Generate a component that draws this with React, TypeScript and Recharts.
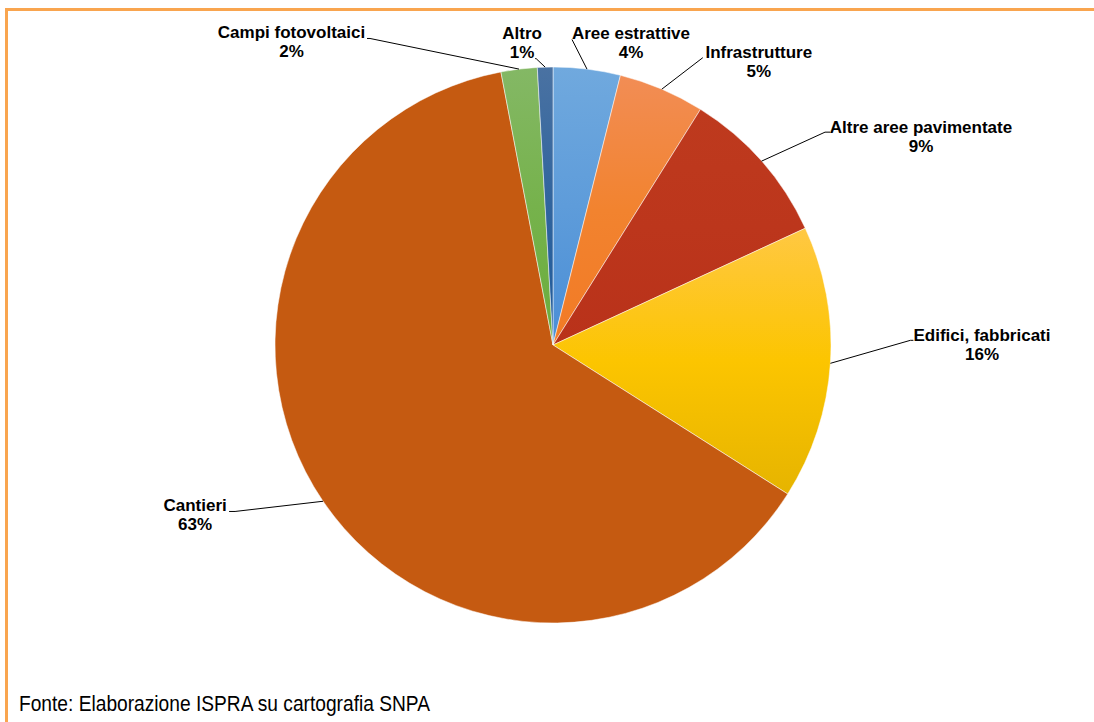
import React from 'react';
import { PieChart, Pie, Cell } from 'recharts';

// land consumption by cover type, clockwise from 12 o'clock
const categories = [
  'Aree estrattive',
  'Infrastrutture',
  'Altre aree pavimentate',
  'Edifici, fabbricati',
  'Cantieri',
  'Campi fotovoltaici',
  'Altro',
];
const shares = [3.9, 5.0, 9.2, 15.9, 63.0, 2.1, 0.9];

const gradTop = ['#70A9DE', '#F28D55', '#BE3A1E', '#FFC843', '#C55A11', '#84B865', '#4A72A2'];
const gradMid = ['#5E9CDA', '#F2832F', '#BC361C', '#FCC500', '#C55A11', '#76B24C', '#30649E'];
const gradBottom = ['#4A8ED6', '#F27A25', '#B9321A', '#E6B400', '#C55A11', '#6AAD3C', '#1E5A9A'];

// label placement relative to the slice edge point at midAngle
// lx/ly: leader line end, h: short horizontal tick, tx: text centre x, ty: first baseline
const labelLayout = [
  { lx: -15, ly: -29.6, h: 0, tx: 44, ty: -29.6 },
  { lx: 41, ly: -31.5, h: 0, tx: 97, ty: -31.4 },
  { lx: 63.5, ly: -29, h: 5, tx: 159.5, ty: -28.4 },
  { lx: 80, ly: -23, h: 3, tx: 151.6, ty: -22.1 },
  { lx: -88, ly: 10.2, h: -6, tx: -128, ty: 9.9 },
  { lx: -149, ly: -30.6, h: -3, tx: -227.5, ty: -31.3 },
  { lx: -9, ly: -8.5, h: -1, tx: -23, ty: -28.3 },
];

const data = categories.map((name, i) => ({ name, value: shares[i] }));

const RADIAN = Math.PI / 180;

const renderLabel = (props: any) => {
  const { cx, cy, midAngle, outerRadius, percent, index, name } = props;
  const ex = cx + outerRadius * Math.cos(-midAngle * RADIAN);
  const ey = cy + outerRadius * Math.sin(-midAngle * RADIAN);
  const lay = labelLayout[index];
  const lx = ex + lay.lx;
  const ly = ey + lay.ly;
  const tx = ex + lay.tx;
  const ty = ey + lay.ty;
  return (
    <g>
      <polyline
        points={`${ex},${ey} ${lx},${ly} ${lx + lay.h},${ly}`}
        fill="none"
        stroke="#000"
        strokeWidth={1}
      />
      <text
        x={tx}
        y={ty}
        textAnchor="middle"
        fill="#000"
        fontSize={17}
        fontWeight="bold"
        fontFamily="'Liberation Sans', Arial, sans-serif"
      >
        <tspan x={tx} y={ty}>{name}</tspan>
        <tspan x={tx} y={ty + 19}>{`${Math.round(percent * 100)}%`}</tspan>
      </text>
    </g>
  );
};

export default function App() {
  return (
    <div
      style={{
        position: 'fixed',
        left: 0,
        top: 0,
        width: 1094,
        height: 722,
        overflow: 'hidden',
        background: '#fff',
      }}
    >
      <div
        style={{
          position: 'absolute',
          left: 5,
          top: 8,
          width: 1200,
          height: 800,
          border: '3px solid #F9A54F',
          boxSizing: 'border-box',
        }}
      />
      <div style={{ position: 'absolute', left: 0, top: 0 }}>
        <PieChart width={1094} height={722} margin={{ top: 0, right: 0, bottom: 0, left: 0 }}>
          <defs>
            {gradTop.map((c, i) => (
              <linearGradient key={i} id={`slice${i}`} x1="0" y1="0" x2="0" y2="1">
                <stop offset="0%" stopColor={c} />
                <stop offset="50%" stopColor={gradMid[i]} />
                <stop offset="100%" stopColor={gradBottom[i]} />
              </linearGradient>
            ))}
          </defs>
          <Pie
            data={data}
            dataKey="value"
            nameKey="name"
            cx={553}
            cy={345}
            outerRadius={278}
            startAngle={90}
            endAngle={-270}
            stroke="#ffffff"
            strokeWidth={0.5}
            label={renderLabel}
            labelLine={false}
            isAnimationActive={false}
          >
            {data.map((d, i) => (
              <Cell key={d.name} fill={`url(#slice${i})`} />
            ))}
          </Pie>
        </PieChart>
      </div>
      <svg
        width={1094}
        height={722}
        style={{ position: 'absolute', left: 0, top: 0, pointerEvents: 'none' }}
      >
        <text
          x={19}
          y={711}
          fontSize={22}
          fill="#000"
          fontFamily="'Liberation Sans Narrow', 'Liberation Sans', Arial, sans-serif"
          textLength={411}
          lengthAdjust="spacingAndGlyphs"
        >
          Fonte: Elaborazione ISPRA su cartografia SNPA
        </text>
      </svg>
    </div>
  );
}
